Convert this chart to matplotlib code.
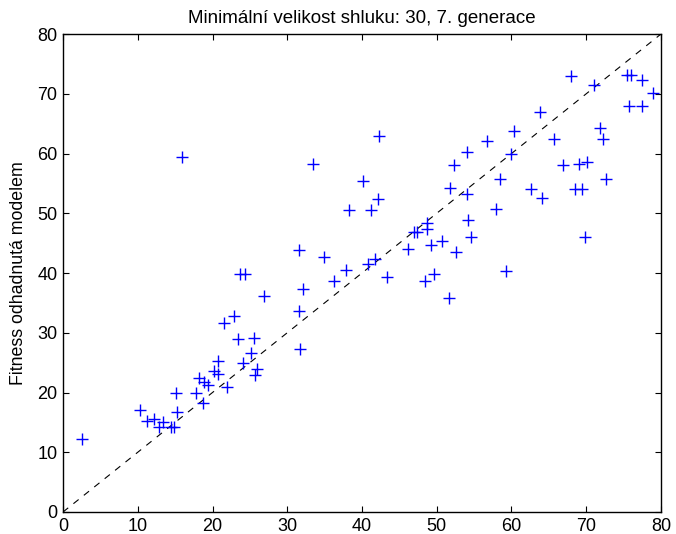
import matplotlib
matplotlib.use('Agg')

import matplotlib.pyplot as plt
import numpy as np

# skutecna fitness (x) a fitness odhadnuta modelem (y)
skutecna = [2.6, 10.3, 11.3, 12.2, 12.9, 13.4, 14.5, 14.8, 15.1, 15.3,
            15.9, 17.8, 18.2, 18.7, 18.9, 19.4, 20.2, 20.8, 20.8, 21.6,
            21.9, 22.9, 23.4, 23.7, 24.1, 24.4, 25.2, 25.6, 25.7, 25.9,
            26.9, 31.6, 31.6, 31.7, 32.1, 33.4, 34.9, 36.2, 37.9, 38.3,
            40.1, 40.8, 41.2, 41.7, 42.1, 42.3, 43.4, 46.1, 46.9, 47.4,
            48.4, 48.7, 48.7, 49.2, 49.6, 50.7, 51.6, 51.8, 52.3, 52.6,
            54.0, 54.0, 54.2, 54.6, 56.7, 57.9, 58.5, 59.2, 60.0, 60.3,
            62.6, 63.8, 64.1, 65.7, 66.9, 68.0, 68.5, 69.0, 69.4, 69.8,
            70.1, 71.1, 71.8, 72.2, 72.6, 75.5, 75.7, 76.0, 77.4, 77.4,
            78.9]
odhad = [12.3, 17.0, 15.2, 15.6, 14.3, 15.0, 14.3, 14.2, 20.0, 16.8,
         59.4, 19.9, 22.5, 18.2, 21.8, 21.3, 23.6, 25.3, 23.1, 31.7,
         20.9, 32.8, 28.9, 39.8, 25.0, 39.8, 26.6, 29.1, 22.9, 24.0,
         36.1, 43.8, 33.7, 27.3, 37.3, 58.2, 42.7, 38.6, 40.5, 50.5,
         55.4, 41.5, 50.5, 42.4, 52.4, 62.9, 39.4, 44.0, 46.8, 46.8,
         38.7, 48.3, 47.3, 44.7, 39.8, 45.4, 35.9, 54.2, 58.0, 43.5,
         60.2, 53.3, 48.9, 46.1, 62.1, 50.7, 55.7, 40.3, 60.0, 63.8,
         54.0, 67.0, 52.6, 62.4, 58.1, 73.0, 54.0, 58.2, 54.0, 46.1,
         58.6, 71.5, 64.2, 62.4, 55.7, 73.1, 67.9, 73.1, 72.3, 67.9,
         70.1]

plt.rcParams['font.family'] = ['Liberation Sans', 'DejaVu Sans']

fig = plt.figure(figsize=(6.76, 5.34), dpi=100)
ax = fig.add_axes([0.0932, 0.0412, 0.8846, 0.8951])

ax.plot([0, 80], [0, 80], color='k', linestyle=(0, (6, 6)), linewidth=0.8)
ax.plot(skutecna, odhad, '+', color=(0, 0, 1), markersize=9, markeredgewidth=1.0)

ax.set_xlim(0, 80)
ax.set_ylim(0, 80)
ax.set_xticks(np.arange(0, 81, 10))
ax.set_yticks(np.arange(0, 81, 10))
ax.tick_params(direction='in', top=True, right=True, labelsize=13, length=4.5, pad=4)
for s in ax.spines.values():
    s.set_linewidth(1.0)

ax.set_title('Minimální velikost shluku: 30, 7. generace', fontsize=13.5, pad=8)
ax.set_ylabel('Fitness odhadnutá modelem', fontsize=12.8, labelpad=7)

fig.savefig('out.png', dpi=100)
